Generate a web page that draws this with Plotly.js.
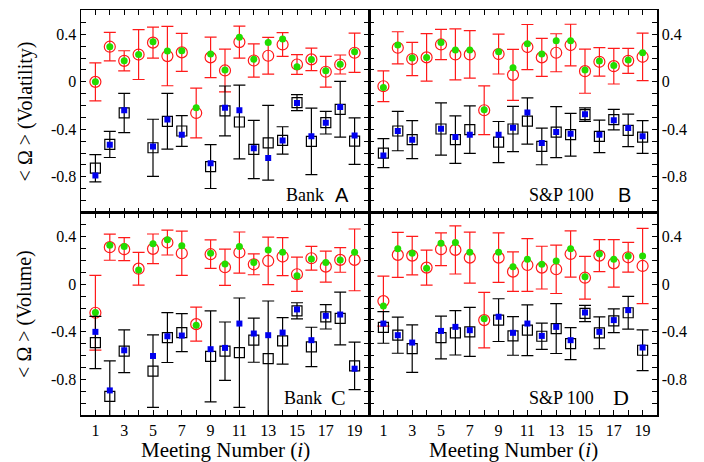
<!DOCTYPE html>
<html>
<head>
<meta charset="utf-8">
<script src="https://cdn.plot.ly/plotly-3.0.1.min.js"></script>
<style>html,body{margin:0;padding:0;background:#fff;}#chart{width:704px;height:462px;}</style>
</head>
<body>
<div id="chart"></div>
<script>
const meetings = [1,2,3,4,5,6,7,8,9,10,11,12,13,14,15,16,17,18,19];
const xTickVals = [1,2,3,4,5,6,7,8,9,10,11,12,13,14,15,16,17,18,19];
const xTickText = ['1','','3','','5','','7','','9','','11','','13','','15','','17','','19'];
const yTickVals = [-1.0,-0.9,-0.8,-0.7,-0.6,-0.5,-0.4,-0.3,-0.2,-0.1,0,0.1,0.2,0.3,0.4,0.5];
const yTickText = ['','','-0.8','','','','-0.4','','','','0','','','','0.4',''];

// Panel A: Bank, volatility
const A_pos    = [0.00,0.296,0.177,0.23,0.33,0.217,0.248,-0.262,0.206,0.096,0.335,0.18,0.22,0.315,0.146,0.189,0.085,0.146,0.245];
const A_posErr = [0.16,0.12,0.085,0.21,0.13,0.25,0.16,0.21,0.17,0.18,0.135,0.14,0.155,0.10,0.083,0.095,0.13,0.08,0.165];
const A_posAlt = [0.0,0.296,0.177,0.23,0.338,0.259,0.262,-0.217,0.234,0.099,0.375,0.19,0.332,0.36,0.127,0.189,0.093,0.149,0.254];
const A_neg    = [-0.727,-0.527,-0.262,null,-0.555,-0.332,-0.414,null,-0.713,-0.245,-0.338,-0.569,-0.513,-0.493,-0.175,-0.501,-0.344,-0.231,-0.499];
const A_negErr = [0.115,0.11,0.165,null,0.24,0.235,0.13,null,0.185,0.21,0.31,0.245,0.315,0.115,0.068,0.28,0.095,0.235,0.195];
const A_negAlt = [-0.789,-0.53,-0.239,null,-0.544,-0.318,-0.445,null,-0.685,-0.217,-0.239,-0.558,-0.642,-0.493,-0.177,-0.459,-0.344,-0.211,-0.451];

// Panel B: S&P 100, volatility
const B_pos    = [-0.037,0.287,0.192,0.206,0.315,0.231,0.231,-0.239,0.234,0.059,0.293,0.206,0.245,0.31,0.09,0.169,0.132,0.177,0.211];
const B_posErr = [0.13,0.135,0.14,0.2,0.127,0.215,0.2,0.205,0.168,0.215,0.19,0.16,0.16,0.175,0.186,0.12,0.15,0.105,0.2];
const B_posAlt = [-0.048,0.31,0.2,0.206,0.332,0.268,0.268,-0.234,0.254,0.118,0.321,0.234,0.346,0.346,0.099,0.175,0.138,0.183,0.245];
const B_neg    = [-0.6,-0.414,-0.487,null,-0.397,-0.487,-0.403,null,-0.507,-0.397,-0.33,-0.544,-0.423,-0.445,-0.276,-0.459,-0.318,-0.408,-0.465];
const B_negErr = [0.122,0.166,0.16,null,0.22,0.2,0.2,null,0.173,0.19,0.195,0.154,0.215,0.18,0.057,0.137,0.087,0.137,0.138];
const B_negAlt = [-0.62,-0.414,-0.487,null,-0.394,-0.465,-0.445,null,-0.445,-0.386,-0.259,-0.515,-0.423,-0.437,-0.273,-0.445,-0.324,-0.389,-0.459];

// Panel C: Bank, volume
const C_pos    = [-0.239,0.313,0.296,0.132,0.299,0.352,0.262,-0.335,0.254,0.144,0.268,0.169,0.197,0.234,0.085,0.22,0.149,0.206,0.206];
const C_posErr = [0.315,0.11,0.097,0.138,0.125,0.105,0.186,0.143,0.12,0.153,0.173,0.088,0.2,0.16,0.144,0.1,0.13,0.104,0.26];
const C_posAlt = [-0.237,0.33,0.318,0.121,0.341,0.375,0.324,-0.344,0.262,0.172,0.318,0.183,0.29,0.27,0.073,0.214,0.183,0.206,0.27];
const C_neg    = [-0.49,-0.944,-0.563,null,-0.73,-0.448,-0.406,null,-0.606,-0.563,-0.575,-0.47,-0.625,-0.476,-0.223,-0.527,-0.273,-0.287,-0.687];
const C_negErr = [0.22,0.3,0.18,null,0.305,0.21,0.16,null,0.383,0.246,0.46,0.186,0.485,0.196,0.068,0.166,0.103,0.222,0.2];
const C_negAlt = [-0.4,-0.893,-0.555,null,-0.603,-0.437,-0.431,null,-0.546,-0.535,-0.33,-0.414,-0.428,-0.406,-0.211,-0.47,-0.265,-0.254,-0.71];

// Panel D: S&P 100, volume
const D_pos    = [-0.141,0.248,0.242,0.141,0.296,0.29,0.225,-0.301,0.225,0.107,0.163,0.141,0.127,0.256,0.056,0.242,0.177,0.228,0.155];
const D_posErr = [0.21,0.19,0.162,0.148,0.138,0.203,0.215,0.233,0.208,0.166,0.222,0.18,0.204,0.195,0.18,0.134,0.2,0.125,0.317];
const D_posAlt = [-0.183,0.299,0.262,0.135,0.346,0.352,0.27,-0.29,0.27,0.149,0.211,0.169,0.197,0.299,0.065,0.256,0.211,0.239,0.239];
const D_neg    = [-0.363,-0.428,-0.541,null,-0.448,-0.408,-0.4,null,-0.301,-0.434,-0.386,-0.437,-0.372,-0.499,-0.245,-0.408,-0.307,-0.239,-0.555];
const D_negErr = [0.133,0.152,0.2,null,0.18,0.187,0.207,null,0.18,0.163,0.214,0.11,0.21,0.135,0.068,0.134,0.1,0.138,0.172];
const D_negAlt = [-0.33,-0.428,-0.49,null,-0.392,-0.358,-0.386,null,-0.273,-0.408,-0.33,-0.434,-0.358,-0.47,-0.237,-0.4,-0.301,-0.217,-0.532];

const panels = [
  {xa:'x',  ya:'y',  pos:A_pos, posErr:A_posErr, posAlt:A_posAlt, neg:A_neg, negErr:A_negErr, negAlt:A_negAlt},
  {xa:'x2', ya:'y2', pos:B_pos, posErr:B_posErr, posAlt:B_posAlt, neg:B_neg, negErr:B_negErr, negAlt:B_negAlt},
  {xa:'x3', ya:'y3', pos:C_pos, posErr:C_posErr, posAlt:C_posAlt, neg:C_neg, negErr:C_negErr, negAlt:C_negAlt},
  {xa:'x4', ya:'y4', pos:D_pos, posErr:D_posErr, posAlt:D_posAlt, neg:D_neg, negErr:D_negErr, negAlt:D_negAlt}
];

const RED = '#ff1a1a', GREEN = '#22dd00', BLUE = '#0000ee', BLACK = '#000000';
const traces = [];
panels.forEach(p => {
  traces.push({x:meetings, y:p.pos, xaxis:p.xa, yaxis:p.ya, type:'scatter', mode:'markers',
    marker:{symbol:'circle-open', size:11, color:RED, line:{width:1.2, color:RED}},
    error_y:{type:'data', array:p.posErr, visible:true, color:RED, thickness:1.2, width:6}});
  traces.push({x:meetings, y:p.posAlt, xaxis:p.xa, yaxis:p.ya, type:'scatter', mode:'markers',
    marker:{symbol:'circle', size:7, color:GREEN}});
  traces.push({x:meetings, y:p.neg, xaxis:p.xa, yaxis:p.ya, type:'scatter', mode:'markers',
    marker:{symbol:'square-open', size:10, color:BLACK, line:{width:1.2, color:BLACK}},
    error_y:{type:'data', array:p.negErr, visible:true, color:BLACK, thickness:1.2, width:6}});
  traces.push({x:meetings, y:p.negAlt, xaxis:p.xa, yaxis:p.ya, type:'scatter', mode:'markers',
    marker:{symbol:'square', size:6, color:BLUE}});
});

const FONT = 'Liberation Serif, Times New Roman, serif';
function xax(domain, anchor, showLabels){
  return {domain:domain, anchor:anchor, range:[0,20], tickmode:'array', tickvals:xTickVals, ticktext:xTickText,
    showticklabels:showLabels, ticks:'inside', ticklen:5, tickwidth:1, tickcolor:'#000',
    showline:true, linecolor:'#000', linewidth:1.5, mirror:'ticks', showgrid:false, zeroline:false,
    tickfont:{family:FONT, size:16, color:'#000'}};
}
function yax(domain, anchor, side){
  return {domain:domain, anchor:anchor, range:[-1.1,0.605], side:side, tickmode:'array', tickvals:yTickVals, ticktext:yTickText,
    ticks:'inside', ticklen:5, tickwidth:1, tickcolor:'#000',
    showline:true, linecolor:'#000', linewidth:1.5, mirror:'ticks', showgrid:false, zeroline:false,
    tickfont:{family:FONT, size:16, color:'#000'}};
}

const serif18 = {family:FONT, size:18, color:'#000'};
const sans20 = {family:'Liberation Sans, Arial, sans-serif', size:20, color:'#000'};
const serif22 = {family:FONT, size:22, color:'#000'};
function lab(text, xref, yref, x, y, xanchor, font){
  return {text:text, xref:xref, yref:yref, x:x, y:y, xanchor:xanchor, yanchor:'bottom', showarrow:false, font:font};
}

const layout = {
  width:704, height:462, margin:{l:81, r:47, t:10, b:47},
  paper_bgcolor:'#fff', plot_bgcolor:'#fff', showlegend:false,
  xaxis: xax([0,0.5], 'y', false),
  yaxis: yax([0.5,1], 'x', 'left'),
  xaxis2: xax([0.5,1], 'y2', false),
  yaxis2: yax([0.5,1], 'x2', 'right'),
  xaxis3: xax([0,0.5], 'y3', true),
  yaxis3: yax([0,0.5], 'x3', 'left'),
  xaxis4: xax([0.5,1], 'y4', true),
  yaxis4: yax([0,0.5], 'x4', 'right'),
  annotations: [
    lab('Bank', 'x', 'y', 14.1, -1.05, 'left', serif18),
    lab('A', 'x', 'y', 18.72, -1.06, 'right', sans20),
    lab('S&amp;P 100', 'x2', 'y2', 10.97, -1.05, 'left', serif18),
    lab('B', 'x2', 'y2', 18.35, -1.06, 'right', sans20),
    lab('Bank', 'x3', 'y3', 13.94, -1.06, 'left', serif18),
    lab('C', 'x3', 'y3', 18.55, -1.075, 'right', serif22),
    lab('S&amp;P 100', 'x4', 'y4', 10.95, -1.06, 'left', serif18),
    lab('D', 'x4', 'y4', 18.2, -1.075, 'right', serif22),
    {text:'&lt; Ω &gt; (Volatility)', xref:'paper', yref:'paper', x:-0.097, y:0.75, xanchor:'center', yanchor:'middle',
      textangle:-90, showarrow:false, font:{family:FONT, size:20, color:'#000'}},
    {text:'&lt; Ω &gt; (Volume)', xref:'paper', yref:'paper', x:-0.097, y:0.25, xanchor:'center', yanchor:'middle',
      textangle:-90, showarrow:false, font:{family:FONT, size:20, color:'#000'}},
    {text:'Meeting Number (<i>i</i>)', xref:'paper', yref:'paper', x:0.25, y:-0.086, xanchor:'center', yanchor:'middle',
      showarrow:false, font:{family:FONT, size:21, color:'#000'}},
    {text:'Meeting Number (<i>i</i>)', xref:'paper', yref:'paper', x:0.75, y:-0.086, xanchor:'center', yanchor:'middle',
      showarrow:false, font:{family:FONT, size:21, color:'#000'}}
  ]
};

Plotly.newPlot('chart', traces, layout, {displayModeBar:false, staticPlot:true});
</script>
</body>
</html>
